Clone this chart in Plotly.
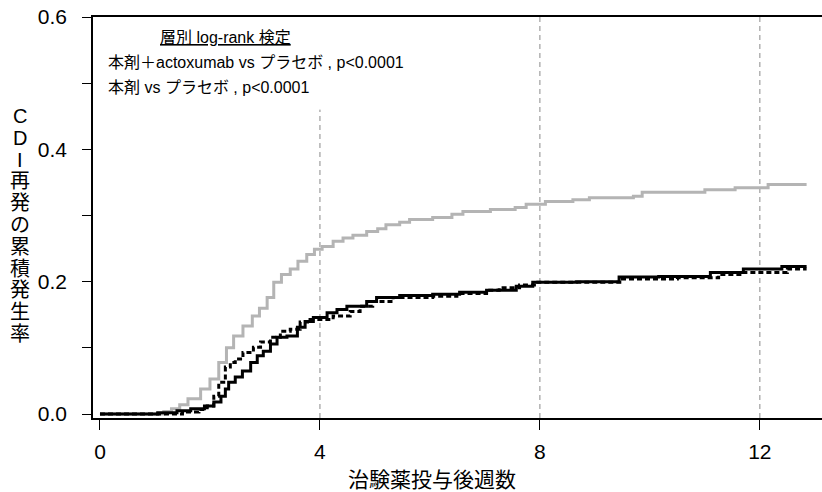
import plotly.graph_objects as go

# ---------------- data ----------------
weeks_placebo = [0, 1.16, 1.3, 1.45, 1.6, 1.83, 2.0, 2.16, 2.3, 2.43, 2.6, 2.77, 2.9, 3.04, 3.16,
                 3.3, 3.46, 3.6, 3.76, 3.9, 4.04, 4.24, 4.42, 4.6, 4.85, 5.05, 5.2, 5.45, 5.63,
                 6.05, 6.4, 6.6, 7.1, 7.55, 7.75, 8.1, 8.6, 8.9, 9.7, 9.86, 11.0, 11.55, 12.15, 12.85]
cum_placebo = [0, 0.004, 0.008, 0.014, 0.023, 0.038, 0.053, 0.078, 0.10, 0.118, 0.133, 0.148, 0.16,
               0.176, 0.199, 0.211, 0.219, 0.231, 0.241, 0.249, 0.253, 0.261, 0.266, 0.270, 0.276,
               0.280, 0.286, 0.290, 0.294, 0.297, 0.302, 0.306, 0.309, 0.312, 0.317, 0.321, 0.324,
               0.327, 0.329, 0.335, 0.339, 0.342, 0.347, 0.347]

weeks_bezlo = [0, 1.05, 1.4, 1.65, 1.9, 2.07, 2.2, 2.28, 2.34, 2.46, 2.59, 2.74, 2.86, 2.97, 3.1,
               3.22, 3.4, 3.59, 3.73, 3.88, 4.13, 4.31, 4.49, 4.85, 5.03, 5.45, 6.05, 6.54, 7.03,
               7.57, 7.87, 8.66, 9.44, 10.16, 11.1, 11.7, 12.4, 12.85]
cum_bezlo = [0, 0.002, 0.005, 0.008, 0.012, 0.018, 0.027, 0.038, 0.048, 0.056, 0.065, 0.078, 0.088,
             0.095, 0.106, 0.116, 0.118, 0.131, 0.14, 0.146, 0.153, 0.158, 0.163, 0.170, 0.176,
             0.179, 0.181, 0.184, 0.187, 0.193, 0.199, 0.200, 0.207, 0.208, 0.214, 0.219, 0.223, 0.223]

weeks_combo = [0, 1.5, 1.8, 1.95, 2.07, 2.16, 2.28, 2.37, 2.46, 2.6, 2.79, 2.92, 3.1, 3.28, 3.46,
               3.64, 3.82, 4.24, 4.55, 4.73, 4.96, 5.33, 6.05, 6.49, 7.03, 7.26, 7.63, 7.9, 9.5,
               10.5, 11.25, 11.7, 12.5, 12.85]
cum_combo = [0, 0.003, 0.007, 0.012, 0.027, 0.048, 0.071, 0.078, 0.083, 0.093, 0.101, 0.109, 0.116,
             0.125, 0.128, 0.139, 0.143, 0.148, 0.155, 0.163, 0.170, 0.176, 0.178, 0.182, 0.187,
             0.191, 0.195, 0.199, 0.204, 0.206, 0.211, 0.214, 0.219, 0.219]

x_ticks = [0, 4, 8, 12]
y_ticks = [0.0, 0.2, 0.4, 0.6]
y_tick_labels = ["0.0", "0.2", "0.4", "0.6"]
y_minor_ticks = [0.1, 0.3, 0.5]
grid_weeks = [4, 8, 12]
grid_tops = [0.46, 0.6, 0.6]

x_title = "治験薬投与後週数"
y_title_chars = ["C", "D", "I", "再", "発", "の", "累", "積", "発", "生", "率"]
test_title = "層別 log-rank 検定"
test_lines = ["本剤＋actoxumab vs プラセボ , p<0.0001", "本剤 vs プラセボ , p<0.0001"]

# ---------------- figure ----------------
W, H = 822, 492
L, R, T, B = 93, 0, 17, 74
PW, PH = W - L - R, H - T - B

def px_x(px):
    return (px - L) / PW

def px_y(py):
    return (H - B - py) / PH

fig = go.Figure()
fig.add_trace(go.Scatter(x=weeks_placebo, y=cum_placebo, mode="lines", line_shape="hv",
                         line=dict(color="#b4b4b4", width=3), name="プラセボ"))
fig.add_trace(go.Scatter(x=weeks_combo, y=cum_combo, mode="lines", line_shape="hv",
                         line=dict(color="black", width=3, dash="5px,3px"), name="本剤＋actoxumab"))
fig.add_trace(go.Scatter(x=weeks_bezlo, y=cum_bezlo, mode="lines", line_shape="hv",
                         line=dict(color="black", width=3), name="本剤"))

for gx, gt in zip(grid_weeks, grid_tops):
    fig.add_shape(type="line", xref="x", yref="y", x0=gx, x1=gx, y0=-0.006, y1=gt,
                  line=dict(color="#8a8a8a", width=1, dash="5px,4px"), layer="below")

cjk = "Liberation Sans, Noto Sans CJK JP, sans-serif"

fig.add_annotation(text="<u>" + test_title + "</u>", xref="paper", yref="paper",
                   x=px_x(225), y=px_y(37), xanchor="center", yanchor="middle",
                   showarrow=False, font=dict(family=cjk, size=16, color="black"))
for i, line in enumerate(test_lines):
    fig.add_annotation(text=line, xref="paper", yref="paper",
                       x=px_x(106), y=px_y(62 + 26 * i), xanchor="left", yanchor="middle",
                       showarrow=False, font=dict(family=cjk, size=16, color="black"))

fig.add_annotation(text=x_title, xref="paper", yref="paper", x=px_x(432), y=px_y(479),
                   xanchor="center", yanchor="middle", showarrow=False,
                   font=dict(family=cjk, size=21, color="black"))

for i, ch in enumerate(y_title_chars):
    fig.add_annotation(text=ch, xref="paper", yref="paper", x=px_x(20), y=px_y(116 + 21.8 * i),
                       xanchor="center", yanchor="middle", showarrow=False,
                       font=dict(family=cjk, size=20, color="black"))

fig.update_layout(
    width=W, height=H, margin=dict(l=L, r=R, t=T, b=B),
    plot_bgcolor="white", paper_bgcolor="white", showlegend=False,
    xaxis=dict(range=[-0.127, 13.13], tickvals=x_ticks, ticks="outside", ticklen=10,
               tickwidth=1.2, tickcolor="black", showline=True, linecolor="black", linewidth=1.5,
               mirror=True, showgrid=False, zeroline=False, ticklabelstandoff=4,
               tickfont=dict(family="Liberation Sans", size=21, color="black")),
    yaxis=dict(range=[-0.006, 0.6], tickvals=y_ticks, ticktext=y_tick_labels, ticks="outside",
               ticklen=9, tickwidth=1.2, tickcolor="black", showline=True, linecolor="black",
               linewidth=1.5, showgrid=False, zeroline=False, ticklabelstandoff=11,
               minor=dict(tickvals=y_minor_ticks, ticks="outside", ticklen=9, tickwidth=1.2,
                          tickcolor="black", showgrid=False),
               tickfont=dict(family="Liberation Sans", size=21, color="black")),
)

fig.write_html("out.html", config={"displayModeBar": False},
               post_script="document.body.style.margin='0';")
